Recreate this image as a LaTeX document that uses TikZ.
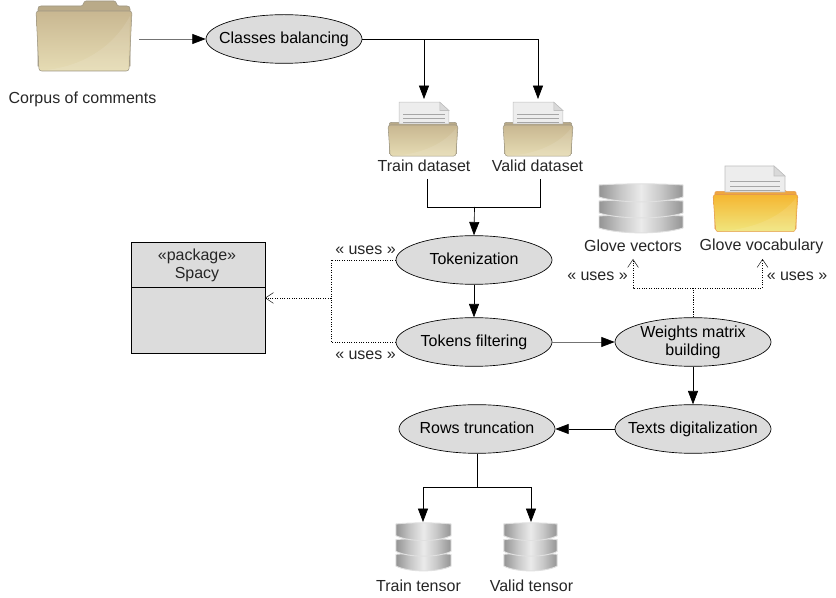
\documentclass[tikz,border=0pt]{standalone}
\usepackage{fontspec}
\setmainfont{Liberation Sans}
\usetikzlibrary{arrows.meta,shapes.geometric}
\definecolor{taskgray}{HTML}{DCDCDC}
\definecolor{corpustop}{HTML}{C8B791}
\definecolor{corpusbot}{HTML}{E6DCB4}
\definecolor{corpusback}{HTML}{B9AA88}
\definecolor{corpusline}{HTML}{9E9784}
\definecolor{glovetop}{HTML}{F5B631}
\definecolor{glovebot}{HTML}{F0E67E}
\definecolor{gloveback}{HTML}{EFA63F}
\definecolor{gloveline}{HTML}{E59A4C}
\pgfdeclarehorizontalshading{dbshade}{100bp}{
  color(0bp)=(black!42); color(25bp)=(black!42); color(38bp)=(black!22);
  color(50bp)=(black!8); color(62bp)=(black!22); color(75bp)=(black!42); color(100bp)=(black!42)}
\tikzset {
  task/.style = {
    ellipse,
    draw=black,
    fill=taskgray,
    line width=0.5pt,
    inner xsep=-14pt,
    inner ysep=-5pt,
    text height=10pt,
    text depth=2.5pt,
    minimum width=117pt,
    minimum height=36.5pt,
    align=center
  },
  caption/.style = {
    text=black!85,
    inner sep=0pt,
    align=center
  },
  flow/.style = {
    line width=0.5pt,
    -{Triangle[length=10pt,width=7.5pt,black]}
  },
  lightflow/.style = {
    flow,
    draw=black!55
  },
  plain/.style = {
    line width=0.5pt
  },
  uses/.style = {
    line width=0.5pt,
    dash pattern=on 0.8pt off 1pt
  },
  usesarrow/.style = {
    uses,
    -{Straight Barb[length=6pt,width=8pt,line width=0.35pt]}
  },
  pics/folderback/.style args = {#1 #2}{
    code = {
      \filldraw[draw=#2, fill=#1, line width=0.4pt]
        (-46,30) -- (-46,-27) .. controls (-46,-29) and (-45,-30) .. (-43,-30)
        -- (-3,-30) .. controls (0,-30) and (-1,-35) .. (2,-35)
        -- (30,-35) .. controls (33,-35) and (32,-30) .. (35,-30)
        -- (43,-30) .. controls (45,-30) and (46,-29) .. (46,-27) -- (46,30) -- cycle;
    }
  },
  pics/folderfront/.style args = {#1 #2 #3}{
    code = {
      \path[rounded corners=2pt, draw=#3, line width=0.4pt, top color=#1, bottom color=#2]
        (-48,-25) -- (48,-25) -- (45,35) -- (-45,35) -- cycle;
      \fill[white, opacity=0.1]
        (-38,34) .. controls (0,30) and (30,10) .. (46,-20) -- (44,34) -- cycle;
    }
  },
  pics/paper/.style = {
    code = {
      \filldraw[draw=black!25, fill=black!7, line width=0.4pt]
        (-30,13) -- (-30,-13) -- (19,-13) -- (30,-3) -- (30,13) -- cycle;
      \filldraw[draw=black!25, fill=black!15, line width=0.4pt]
        (19,-13) -- (19,-3) -- (30,-3) -- cycle;
      \draw[black!35, line width=0.7pt] (-25,2) -- (25,2);
      \draw[black!35, line width=0.7pt] (-25,7) -- (25,7);
      \draw[black!35, line width=0.7pt] (-25,11) -- (25,11);
    }
  },
  pics/database/.style = {
    code = {
      \foreach \y in {7,-8,-24} {
        \path[draw=black!12, line width=0.7pt, shading=dbshade]
          (-42,\y) -- (-42,\y+12) .. controls (-22,\y+18.5) and (22,\y+18.5) .. (42,\y+12)
          -- (42,\y) .. controls (22,\y-1.5) and (-22,\y-1.5) .. (-42,\y) -- cycle;
      }
    }
  }
}

\begin{document}
\begin{tikzpicture}[x=0.75pt,y=-0.75pt,font=\fontsize{12}{14}\selectfont]
\useasboundingbox (0,0) rectangle (836,598);

% --- Icons ---
\pic at (84,36) {folderback={corpusback corpusline}};
\pic at (84,36) {folderfront={corpustop corpusbot corpusline}};
\pic[xscale=0.73,yscale=0.52] at (423,138) {folderback={corpusback corpusline}};
\pic[xscale=0.73,yscale=0.52] at (538,138) {folderback={corpusback corpusline}};
\pic[scale=0.83] at (424,113) {paper};
\pic[scale=0.83] at (538,113) {paper};
\pic[xscale=0.73,yscale=0.52] at (423,138) {folderfront={corpustop corpusbot corpusline}};
\pic[xscale=0.73,yscale=0.52] at (538,138) {folderfront={corpustop corpusbot corpusline}};
\pic[xscale=0.885,yscale=0.62] at (755.5,210) {folderback={gloveback gloveline}};
\pic at (755,179) {paper};
\pic[xscale=0.885,yscale=0.62] at (755.5,210) {folderfront={glovetop glovebot gloveline}};
\pic at (641,209) {database};
\pic[xscale=0.655,yscale=0.98] at (423.5,547.5) {database};
\pic[xscale=0.635,yscale=0.98] at (530.5,547.5) {database};

% --- Steps ---
\node[task] (classes) at (284,39) {Classes balancing};
\node[task] (tokenization) at (474,260) {Tokenization};
\node[task] (filtering) at (474,342) {Tokens filtering};
\node[task,text height=,text depth=] (weights) at (693,342) {Weights matrix\\[-0.5pt]building};
\node[task] (digital) at (693,429) {Texts digitalization};
\node[task] (rows) at (477,429) {Rows truncation};

% --- Package ---
\node[draw=black, fill=taskgray, line width=0.5pt, minimum width=100.5pt, minimum height=83.25pt, inner sep=0pt] (spacy) at (198,297.5) {};
\node[caption] (spacyname) at (197,265.5) {«package»\\[-0.5pt]Spacy};
\coordinate (spacyleft) at (131,287);
\coordinate (spacyright) at (265,287);
\coordinate (spacyin) at (265,298);
\draw[plain] (spacyleft) -- (spacyright);

% --- Labels ---
\node[caption] (corpus) at (82.5,99.5) {Corpus of comments};
\node[caption] (traindata) at (424,166) {Train dataset};
\node[caption] (validdata) at (537.5,166) {Valid dataset};
\node[caption] (glovevec) at (633,246) {Glove vectors};
\node[caption] (glovevoc) at (761.5,246) {Glove vocabulary};
\node[caption] (traintensor) at (418.5,586) {Train tensor};
\node[caption] (validtensor) at (531.5,586) {Valid tensor};
\node[caption] (uses1) at (365.5,250) {« uses »};
\node[caption] (uses2) at (365.5,355) {« uses »};
\node[caption] (uses3) at (597.5,276) {« uses »};
\node[caption] (uses4) at (797,276) {« uses »};

% --- Free ends ---
\coordinate (corpusout) at (139,39);
\coordinate (trainin) at (424,99);
\coordinate (validin) at (538,99);
\coordinate (trainout) at (427,179);
\coordinate (validout) at (540.5,179);
\coordinate (merge) at (474.5,207);
\coordinate (fork) at (477,487);
\coordinate (traintop) at (423,522);
\coordinate (validtop) at (531,522);
\coordinate (usesleft) at (331,298);
\coordinate (usesup) at (693,288);
\coordinate (vecin) at (633,259);
\coordinate (vocin) at (762.5,259);

% --- Flow ---
\draw[lightflow] (corpusout) -- (classes.west);
\draw[flow] (classes.east) -| (trainin);
\draw[flow] (classes.east) -| (validin);
\draw[plain] (trainout) |- (merge);
\draw[plain] (validout) |- (merge);
\draw[flow] (merge) -- (tokenization.north);
\draw[flow] (tokenization.south) -- (filtering.north);
\draw[lightflow] (filtering.east) -- (weights.west);
\draw[flow] (weights.south) -- (digital.north);
\draw[flow] (digital.west) -- (rows.east);
\draw[plain] (rows.south) -- (fork);
\draw[flow] (fork) -| (traintop);
\draw[flow] (fork) -| (validtop);

% --- Uses ---
\draw[uses] (tokenization.west) -| (usesleft);
\draw[uses] (filtering.west) -| (usesleft);
\draw[usesarrow] (usesleft) -- (spacyin);
\draw[uses] (weights.north) -- (usesup);
\draw[usesarrow] (usesup) -| (vecin);
\draw[usesarrow] (usesup) -| (vocin);

\end{tikzpicture}
\end{document}
